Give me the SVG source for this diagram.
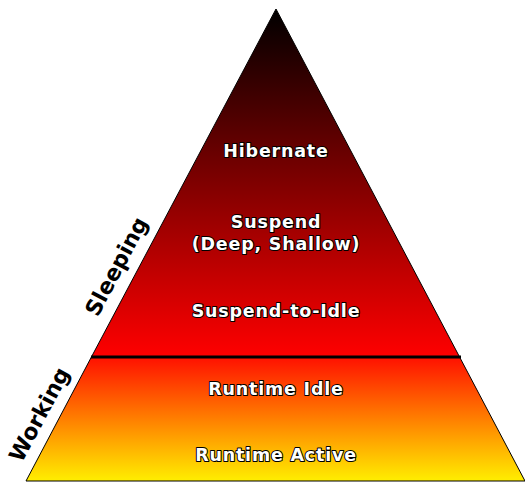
<svg xmlns="http://www.w3.org/2000/svg" width="525" height="482" viewBox="0 0 525 482">
<defs>
<linearGradient id="gSleep" gradientUnits="userSpaceOnUse" x1="0" y1="9" x2="0" y2="357">
<stop offset="0" stop-color="#000000"/>
<stop offset="1" stop-color="#ff0000"/>
</linearGradient>
<linearGradient id="gWork" gradientUnits="userSpaceOnUse" x1="0" y1="357" x2="0" y2="481">
<stop offset="0" stop-color="#ff1000"/>
<stop offset="1" stop-color="#ffee00"/>
</linearGradient>
</defs>
<style>
.lbl{font-family:"DejaVu Sans",sans-serif;font-weight:bold;font-size:17.5px;fill:#fff;stroke:#000;stroke-width:2;paint-order:stroke;stroke-linejoin:round;text-anchor:middle;letter-spacing:0.8px}
.side{font-family:"DejaVu Sans",sans-serif;font-weight:bold;font-size:22px;fill:#000;text-anchor:middle}
</style>
<g id="sleeping">
<polygon points="276,9 91.4,357 459.6,357" fill="url(#gSleep)" stroke="#000" stroke-width="1"/>
</g>
<g id="working">
<polygon points="91.4,357 459.6,357 525,481 26,481" fill="url(#gWork)" stroke="#000" stroke-width="1"/>
</g>
<g id="connectors">
<line x1="91" y1="357" x2="461" y2="357" stroke="#000" stroke-width="3"/>
</g>
<g id="hibernate"><text class="lbl" x="276" y="157">Hibernate</text></g>
<g id="suspend"><text class="lbl" x="276" y="228">Suspend</text><text class="lbl" x="276" y="250">(Deep, Shallow)</text></g>
<g id="s2idle"><text class="lbl" x="276" y="317">Suspend-to-Idle</text></g>
<g id="rtidle"><text class="lbl" x="276" y="395">Runtime Idle</text></g>
<g id="rtactive"><text class="lbl" x="276" y="461">Runtime Active</text></g>
<g id="lbl-sleeping"><text class="side" transform="translate(123,270) rotate(-62)">Sleeping</text></g>
<g id="lbl-working"><text class="side" transform="translate(46,418) rotate(-62)">Working</text></g>
</svg>
